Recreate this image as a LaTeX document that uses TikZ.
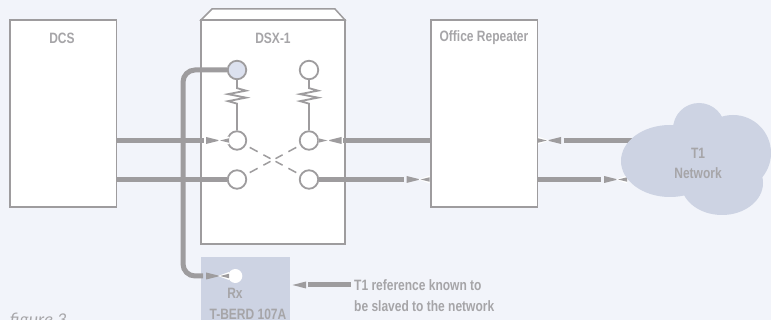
\documentclass[tikz,border=0pt]{standalone}
\usepackage{fontspec}
\setmainfont[FakeStretch=0.8]{Liberation Sans}
\newfontfamily\figfont{Carlito}
\usetikzlibrary{positioning,calc}
\definecolor{pagebg}{HTML}{F2F4FA}
\definecolor{linegray}{HTML}{9E9C9E}
\definecolor{textgray}{HTML}{A6A5A8}
\definecolor{cloudblue}{HTML}{CDD3E3}
\definecolor{portblue}{HTML}{DCE1EF}
\tikzset{
	box/.style={draw=linegray,line width=1.6pt,fill=white,minimum width=#1,inner sep=0pt,outer sep=0pt,anchor=north west},
	label/.style={text=textgray,font=\fontsize{15}{20}\selectfont\bfseries,inner sep=0pt},
	port/.style={circle,draw=linegray,line width=1.8pt,fill=white,minimum size=18.5pt,inner sep=0pt},
	wire/.style={draw=linegray,line width=5pt},
	thin wire/.style={draw=linegray,line width=1.8pt},
	cross/.style={draw=linegray,line width=1.5pt,dash pattern=on 0pt off 4.3pt on 9pt off 6.6pt on 8pt off 12pt},
	blob/.style={fill=cloudblue,draw=none},
	pics/flowtip/.style={code={
		\fill[linegray] (0,-3.5) -- (14,0) -- (0,3.5) -- cycle;
		\fill[white] (12,0) -- (23,-4) -- (23,4) -- cycle;
		\fill[linegray] (14,0) -- (23,-2.2) -- (23,2.2) -- cycle;
	}},
}
\begin{document}
\begin{tikzpicture}[x=1pt,y=-1pt]
	\useasboundingbox (0,0) rectangle (771,320);
	\fill[pagebg] (0,0) rectangle (771,320);
	% boxes
	\node[box=106.5pt,minimum height=187pt] (dcs) at (10,20) {};
	\node[box=144pt,minimum height=224pt] (dsx) at (201,20) {};
	\node[box=106.5pt,minimum height=187pt] (rep) at (431,20) {};
	\draw[draw=linegray,line width=1.5pt,fill=white] (dsx.north west) -- (212,9) -- (335,9) -- (dsx.north east) -- cycle;
	\draw[draw=linegray,line width=2.6pt] (dsx.north west) -- (dsx.north east);
	\node[label] at (62,38) {DCS};
	\node[label] at (273,38) {DSX-1};
	\node[label] at (484,38) {Office Repeater};
	% T-BERD
	\fill[blob] (201,257) rectangle (290,320);
	\node[circle,fill=white,minimum size=14pt,inner sep=0pt] (rx) at (235.3,276) {};
	\node[label] at (235,293) {Rx};
	\node[label] at (248,314) {T-BERD 107A};
	% ports
	\node[port,fill=portblue] (p1) at (237,70) {};
	\node[port] (p2) at (309,70) {};
	\node[port] (p3) at (237,140.5) {};
	\node[port] (p4) at (309,140.5) {};
	\node[port] (p5) at (237,179.5) {};
	\node[port] (p6) at (309,179.5) {};
	\coordinate (mid) at ($(p3)!0.5!(p6)$);
	% springs
	\foreach \a/\b in {p1/p3,p2/p4}{
		\draw[thin wire] (\a.south) -- ++(0,8) -- ++(9,2.5) -- ++(-18,3.5) -- ++(18,3.5) -- ++(-18,3.5) -- ++(9,2.5) -- (\b.north);
	}
	\foreach \a in {p3,p4,p5,p6}{
		\draw[cross] (\a) -- (mid);
	}
	% wires
	\draw[wire] (dcs.east |- p3) -- (204,140.5);
	\draw[wire] (dcs.east |- p5) -- (p5.west);
	\draw[wire] (rep.west |- p4) -- (343,140.5);
	\draw[wire] (p6.east) -- (404,179.5);
	\draw[wire] (rep.east |- p4) ++(26,0) -- (640,140.5);
	\draw[wire] (rep.east |- p5) -- (601,179.5);
	\draw[wire,rounded corners=12pt] (p1.west) -- (183,70) -- (183,276) -- (203,276);
	\pic at (206,140.5) {flowtip};
	\pic[xscale=-1] at (341.5,140.5) {flowtip};
	\pic at (406.5,179.5) {flowtip};
	\pic[xscale=-1] at (561,140.5) {flowtip};
	\pic at (604,179.5) {flowtip};
	\pic at (206,276) {flowtip};
	% cloud
	\fill[blob] (670,161) ellipse [x radius=49pt,y radius=36pt];
	\fill[blob] (699,129) circle (26pt);
	\fill[blob] (733,153) ellipse [x radius=38pt,y radius=38pt];
	\fill[blob] (722,183) ellipse [x radius=41pt,y radius=32pt];
	\node[label,align=center] (net) at (698,163) {T1\\Network};
	% reference note
	\node[label,anchor=west] (ref) at (354,285) {T1 reference known to};
	\node[label,below=10pt of ref.south west,anchor=north west] (ref2) {be slaved to the network};
	\coordinate (reftip) at (292.5,285);
	\fill[linegray] (reftip) -- ++(13.5,-3.5) -- ++(0,7) -- cycle;
	\draw[wire] (308,285) -- ($(ref.west)+(-3.5,0)$);
	\node[text=textgray,font=\figfont\itshape\fontsize{18}{18}\selectfont,anchor=base west,inner sep=0pt] (fig) at (10,325) {figure 3};
\end{tikzpicture}
\end{document}
